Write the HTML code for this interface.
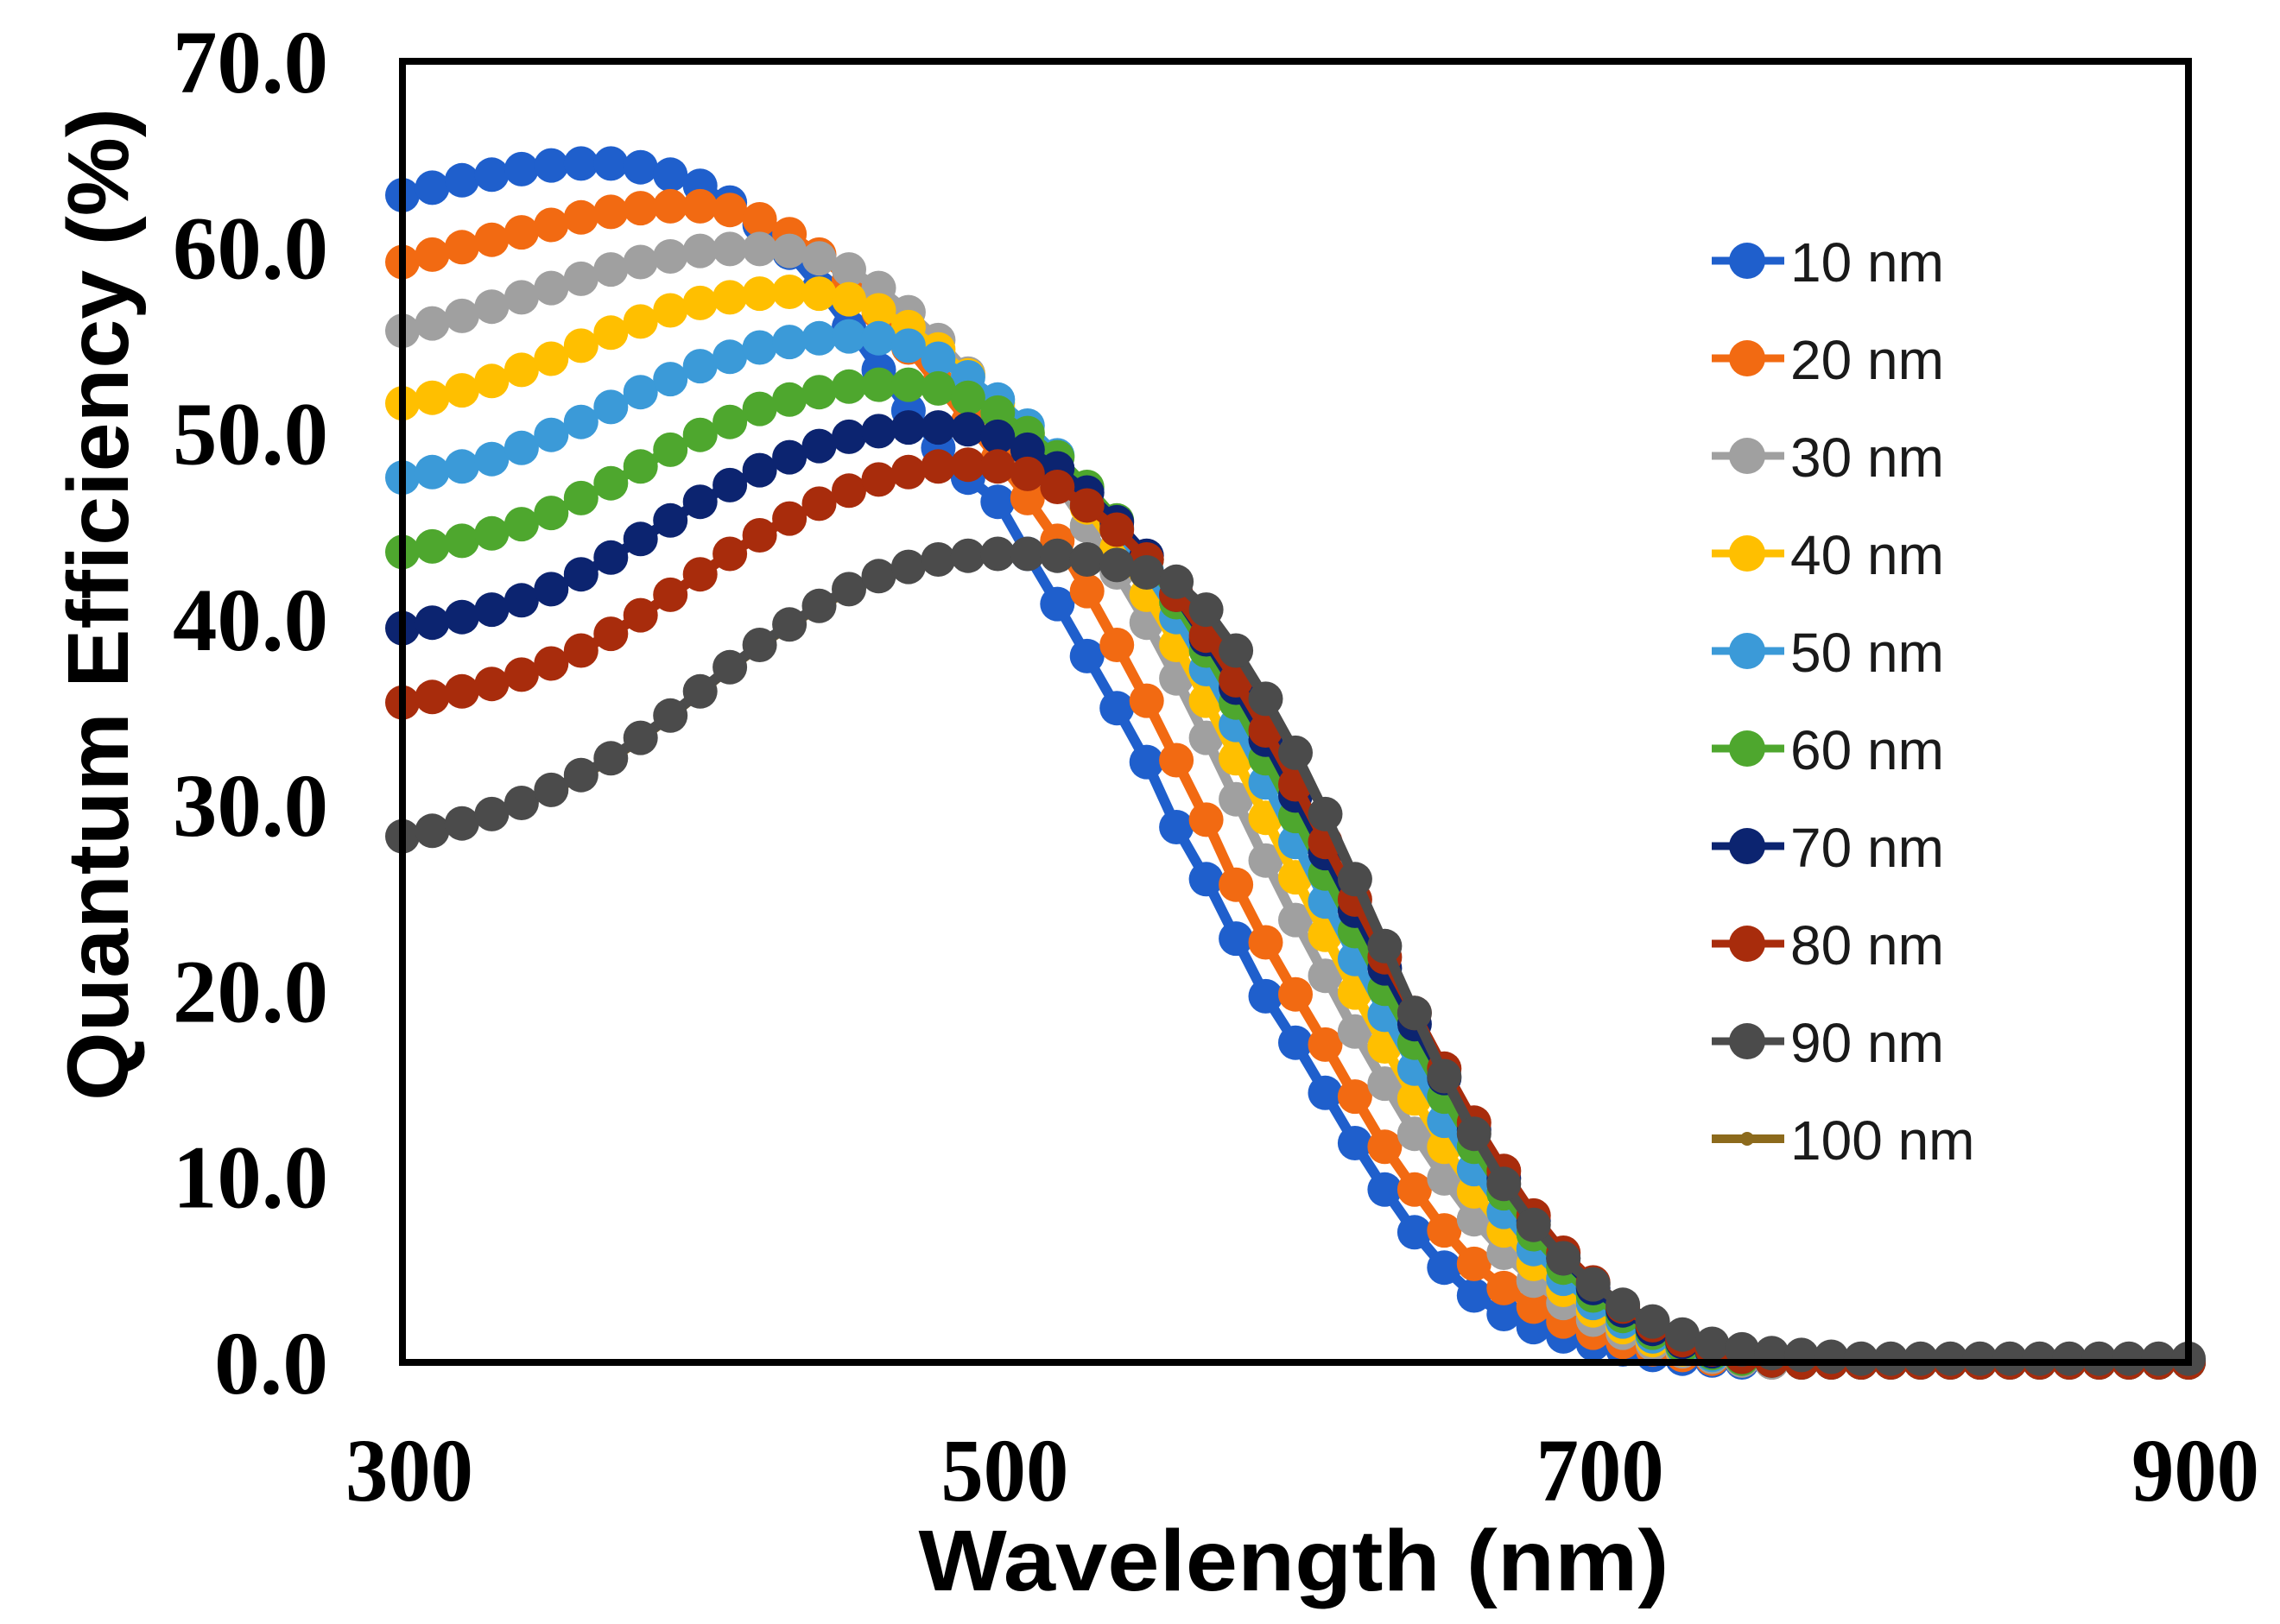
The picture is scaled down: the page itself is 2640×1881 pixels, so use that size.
<!DOCTYPE html>
<html><head><meta charset="utf-8"><style>
html,body{margin:0;padding:0;background:#fff;}
svg{display:block;}
</style></head><body>
<svg id="chart" xmlns="http://www.w3.org/2000/svg" width="2640" height="1881" viewBox="0 0 2640 1881">
<rect x="0" y="0" width="2640" height="1881" fill="#fff"/>
<g id="series-layer"></g>
<rect x="466" y="71" width="2068" height="1507" fill="none" stroke="#000" stroke-width="8"/>
<g id="axis-layer"></g>
<g id="legend-layer"></g>
<text x="1498" y="1842" text-anchor="middle" font-family="Liberation Sans, sans-serif" font-weight="bold" font-size="100" textLength="869" lengthAdjust="spacingAndGlyphs">Wavelength (nm)</text>
<text transform="translate(148,700) rotate(-90)" x="0" y="0" text-anchor="middle" font-family="Liberation Sans, sans-serif" font-weight="bold" font-size="100" textLength="1150" lengthAdjust="spacingAndGlyphs">Quantum Efficiency (%)</text>
</svg>
<script>
const wavelengths = [];
for (let w = 300; w <= 900; w += 10) wavelengths.push(w);
const xTicks = [300, 500, 700, 900];
const xTickLabels = ["300", "500", "700", "900"];
const yTicks = [0, 10, 20, 30, 40, 50, 60, 70];
const yTickLabels = ["0.0", "10.0", "20.0", "30.0", "40.0", "50.0", "60.0", "70.0"];
const seriesNames = ["100 nm","10 nm","20 nm","30 nm","40 nm","50 nm","60 nm","70 nm","80 nm","90 nm"];
const legendOrder = ["10 nm","20 nm","30 nm","40 nm","50 nm","60 nm","70 nm","80 nm","90 nm","100 nm"];
const s10 = [62.8,63.2,63.6,63.9,64.2,64.4,64.5,64.5,64.3,63.9,63.3,62.4,61.2,59.7,57.8,55.7,53.4,51.2,49.2,47.6,46.3,43.5,40.8,38,35.2,32.3,28.8,26,22.8,19.7,17.2,14.5,11.8,9.3,7,5.1,3.6,2.6,1.9,1.4,1.0,0.7,0.4,0.2,0.1,0,0,0,0,0,0,0,0,0,0,0,0,0,0,0,0];
const s20 = [59.2,59.6,60,60.4,60.8,61.2,61.6,61.9,62.1,62.2,62.2,62,61.5,60.7,59.6,58.2,56.5,54.6,52.6,50.6,48.6,46.5,44.2,41.5,38.6,35.6,32.4,29.2,25.7,22.6,19.8,17.1,14.3,11.6,9.3,7.1,5.3,4.0,3.0,2.2,1.6,1.1,0.7,0.4,0.2,0.1,0,0,0,0,0,0,0,0,0,0,0,0,0,0,0];
const s30 = [55.5,55.9,56.3,56.8,57.3,57.8,58.3,58.8,59.2,59.5,59.8,59.9,59.9,59.8,59.4,58.8,57.8,56.5,55,53.2,51.4,49.4,47.3,45,42.5,39.8,36.8,33.6,30.3,27,23.8,20.8,17.8,15,12.3,9.9,7.7,5.9,4.4,3.2,2.3,1.6,1.0,0.6,0.3,0.1,0,0,0,0,0,0,0,0,0,0,0,0,0,0,0];
const s40 = [51.6,51.9,52.3,52.8,53.4,54,54.7,55.4,56,56.6,57,57.3,57.5,57.6,57.5,57.2,56.6,55.7,54.5,53.1,51.6,49.9,48,46,43.8,41.3,38.6,35.6,32.5,29.3,26.1,23,19.9,17,14.2,11.6,9.2,7.1,5.3,3.9,2.8,1.9,1.2,0.7,0.4,0.2,0.1,0,0,0,0,0,0,0,0,0,0,0,0,0,0];
const s50 = [47.6,47.9,48.2,48.6,49.2,49.9,50.6,51.4,52.2,52.9,53.6,54.1,54.6,54.9,55.1,55.2,55.1,54.7,54,53,51.8,50.4,48.8,47,44.9,42.6,40.1,37.3,34.3,31.2,28,24.8,21.7,18.7,15.8,13,10.4,8.1,6.1,4.5,3.2,2.2,1.4,0.8,0.4,0.2,0.1,0,0,0,0,0,0,0,0,0,0,0,0,0,0];
const s60 = [43.6,43.9,44.2,44.6,45.1,45.7,46.5,47.3,48.2,49.1,49.9,50.6,51.3,51.8,52.2,52.5,52.6,52.6,52.4,51.9,51.1,50,48.7,47.1,45.3,43.2,40.9,38.3,35.5,32.5,29.4,26.3,23.2,20.1,17.2,14.3,11.6,9.1,6.9,5.1,3.6,2.5,1.6,0.9,0.5,0.2,0.1,0,0,0,0,0,0,0,0,0,0,0,0,0,0];
const s70 = [39.5,39.8,40.1,40.5,41,41.6,42.4,43.3,44.3,45.3,46.3,47.2,48,48.7,49.3,49.8,50.1,50.3,50.3,50.2,49.8,49.1,48.1,46.8,45.2,43.4,41.3,38.9,36.3,33.5,30.5,27.4,24.3,21.2,18.2,15.3,12.5,9.9,7.6,5.6,4.0,2.8,1.8,1.1,0.6,0.3,0.1,0,0,0,0,0,0,0,0,0,0,0,0,0,0];
const s80 = [35.5,35.8,36.1,36.5,37,37.6,38.3,39.2,40.2,41.3,42.4,43.5,44.5,45.4,46.2,46.9,47.5,47.9,48.2,48.3,48.2,47.8,47.1,46.1,44.8,43.2,41.3,39.1,36.7,34,31.1,28,24.9,21.8,18.8,15.8,12.9,10.3,7.9,5.9,4.3,3.0,2.0,1.2,0.7,0.3,0.1,0,0,0,0,0,0,0,0,0,0,0,0,0,0];
const s90 = [28.3,28.6,29,29.5,30.1,30.8,31.6,32.5,33.6,34.8,36.1,37.4,38.6,39.7,40.7,41.6,42.3,42.8,43.2,43.4,43.5,43.5,43.4,43.2,42.9,42.5,42,40.5,38.3,35.7,32.8,29.5,26,22.4,18.8,15.4,12.3,9.6,7.4,5.6,4.2,3.1,2.2,1.5,1.0,0.7,0.5,0.4,0.3,0.2,0.2,0.2,0.2,0.2,0.2,0.2,0.2,0.2,0.2,0.2,0.2];
const s100 = [28.1,28.4,28.8,29.3,29.9,30.6,31.4,32.3,33.4,34.6,35.9,37.2,38.4,39.5,40.5,41.4,42.1,42.6,43,43.2,43.3,43.3,43.2,43,42.7,42.3,41.8,40.3,38.1,35.5,32.6,29.3,25.8,22.2,18.6,15.2,12.1,9.4,7.2,5.4,4.0,2.9,2.0,1.3,0.9,0.6,0.4,0.3,0.2,0.2,0.2,0.2,0.2,0.2,0.2,0.2,0.2,0.2,0.2,0.2,0.2];
const seriesValues = [s100,s10,s20,s30,s40,s50,s60,s70,s80,s90];
const seriesColors = {"10 nm":"#1f5fcc","20 nm":"#f26a12","30 nm":"#a0a0a0","40 nm":"#ffbf00","50 nm":"#3b9ad8","60 nm":"#4ea72e","70 nm":"#0c2470","80 nm":"#a82c0c","90 nm":"#4b4b4b","100 nm":"#8c6a1c"};

const X0 = 466, X1 = 2534, Y0 = 1578, Y1 = 71;
function xScale(v){ return X0 + (v - 300) / 600 * (X1 - X0); }
function yScale(v){ return Y0 - v / 70 * (Y0 - Y1); }
const NS = "http://www.w3.org/2000/svg";
const sl = document.getElementById('series-layer');

seriesNames.forEach((name, si) => {
  const vals = seriesValues[si];
  const col = seriesColors[name];
  const small = name === "100 nm";
  const g = document.createElementNS(NS, 'g');
  
  
  const pts = vals.map((v, i) => xScale(wavelengths[i]).toFixed(1) + ',' + yScale(v).toFixed(1)).join(' ');
  const pl = document.createElementNS(NS, 'polyline');
  
  
  pl.setAttribute('points', pts);
  pl.setAttribute('fill', 'none');
  pl.setAttribute('stroke', col);
  pl.setAttribute('stroke-width', small ? '6' : '12');
  pl.setAttribute('stroke-linejoin', 'round');
  g.appendChild(pl);
  vals.forEach((v, i) => {
    const c = document.createElementNS(NS, 'circle');
    
    
    c.setAttribute('cx', xScale(wavelengths[i]).toFixed(1));
    c.setAttribute('cy', yScale(v).toFixed(1));
    c.setAttribute('r', small ? '7' : '20');
    c.setAttribute('fill', col);
    g.appendChild(c);
  });
  sl.appendChild(g);
});

const al = document.getElementById('axis-layer');
yTicks.forEach((t, i) => {
  const tx = document.createElementNS(NS, 'text');
  
  
  tx.setAttribute('x', 380);
  tx.setAttribute('y', yScale(t) + 36);
  tx.setAttribute('text-anchor', 'end');
  tx.setAttribute('font-family', 'Liberation Serif, serif');
  tx.setAttribute('font-weight', 'bold');
  tx.setAttribute('font-size', '104');
  tx.setAttribute('textLength', t >= 10 ? '180' : '132');
  tx.setAttribute('lengthAdjust', 'spacingAndGlyphs');
  tx.textContent = yTickLabels[i];
  al.appendChild(tx);
});
xTicks.forEach((t, i) => {
  const tx = document.createElementNS(NS, 'text');
  
  
  tx.setAttribute('x', xScale(t) + 8);
  tx.setAttribute('y', 1738);
  tx.setAttribute('text-anchor', 'middle');
  tx.setAttribute('font-family', 'Liberation Serif, serif');
  tx.setAttribute('font-weight', 'bold');
  tx.setAttribute('font-size', '104');
  tx.setAttribute('textLength', '148');
  tx.setAttribute('lengthAdjust', 'spacingAndGlyphs');
  tx.textContent = xTickLabels[i];
  al.appendChild(tx);
});

const ll = document.getElementById('legend-layer');
legendOrder.forEach((name, i) => {
  const y = 302 + i * 113;
  const col = seriesColors[name];
  const small = name === "100 nm";
  const g = document.createElementNS(NS, 'g');
  
  
  const ln = document.createElementNS(NS, 'line');
  
  
  ln.setAttribute('x1', 1982); ln.setAttribute('x2', 2066);
  ln.setAttribute('y1', y); ln.setAttribute('y2', y);
  ln.setAttribute('stroke', col); ln.setAttribute('stroke-width', small ? 10 : 9);
  g.appendChild(ln);
  const c = document.createElementNS(NS, 'circle');
  
  
  c.setAttribute('cx', 2023); c.setAttribute('cy', y);
  c.setAttribute('r', small ? 8 : 21);
  c.setAttribute('fill', col);
  g.appendChild(c);
  const tx = document.createElementNS(NS, 'text');
  
  
  tx.setAttribute('x', 2073); tx.setAttribute('y', y + 24);
  tx.setAttribute('font-family', 'Liberation Sans, sans-serif');
  tx.setAttribute('font-size', '64');
  tx.setAttribute('fill', '#1a1a1a');
  tx.textContent = name;
  g.appendChild(tx);
  ll.appendChild(g);
});
</script>
</body></html>
